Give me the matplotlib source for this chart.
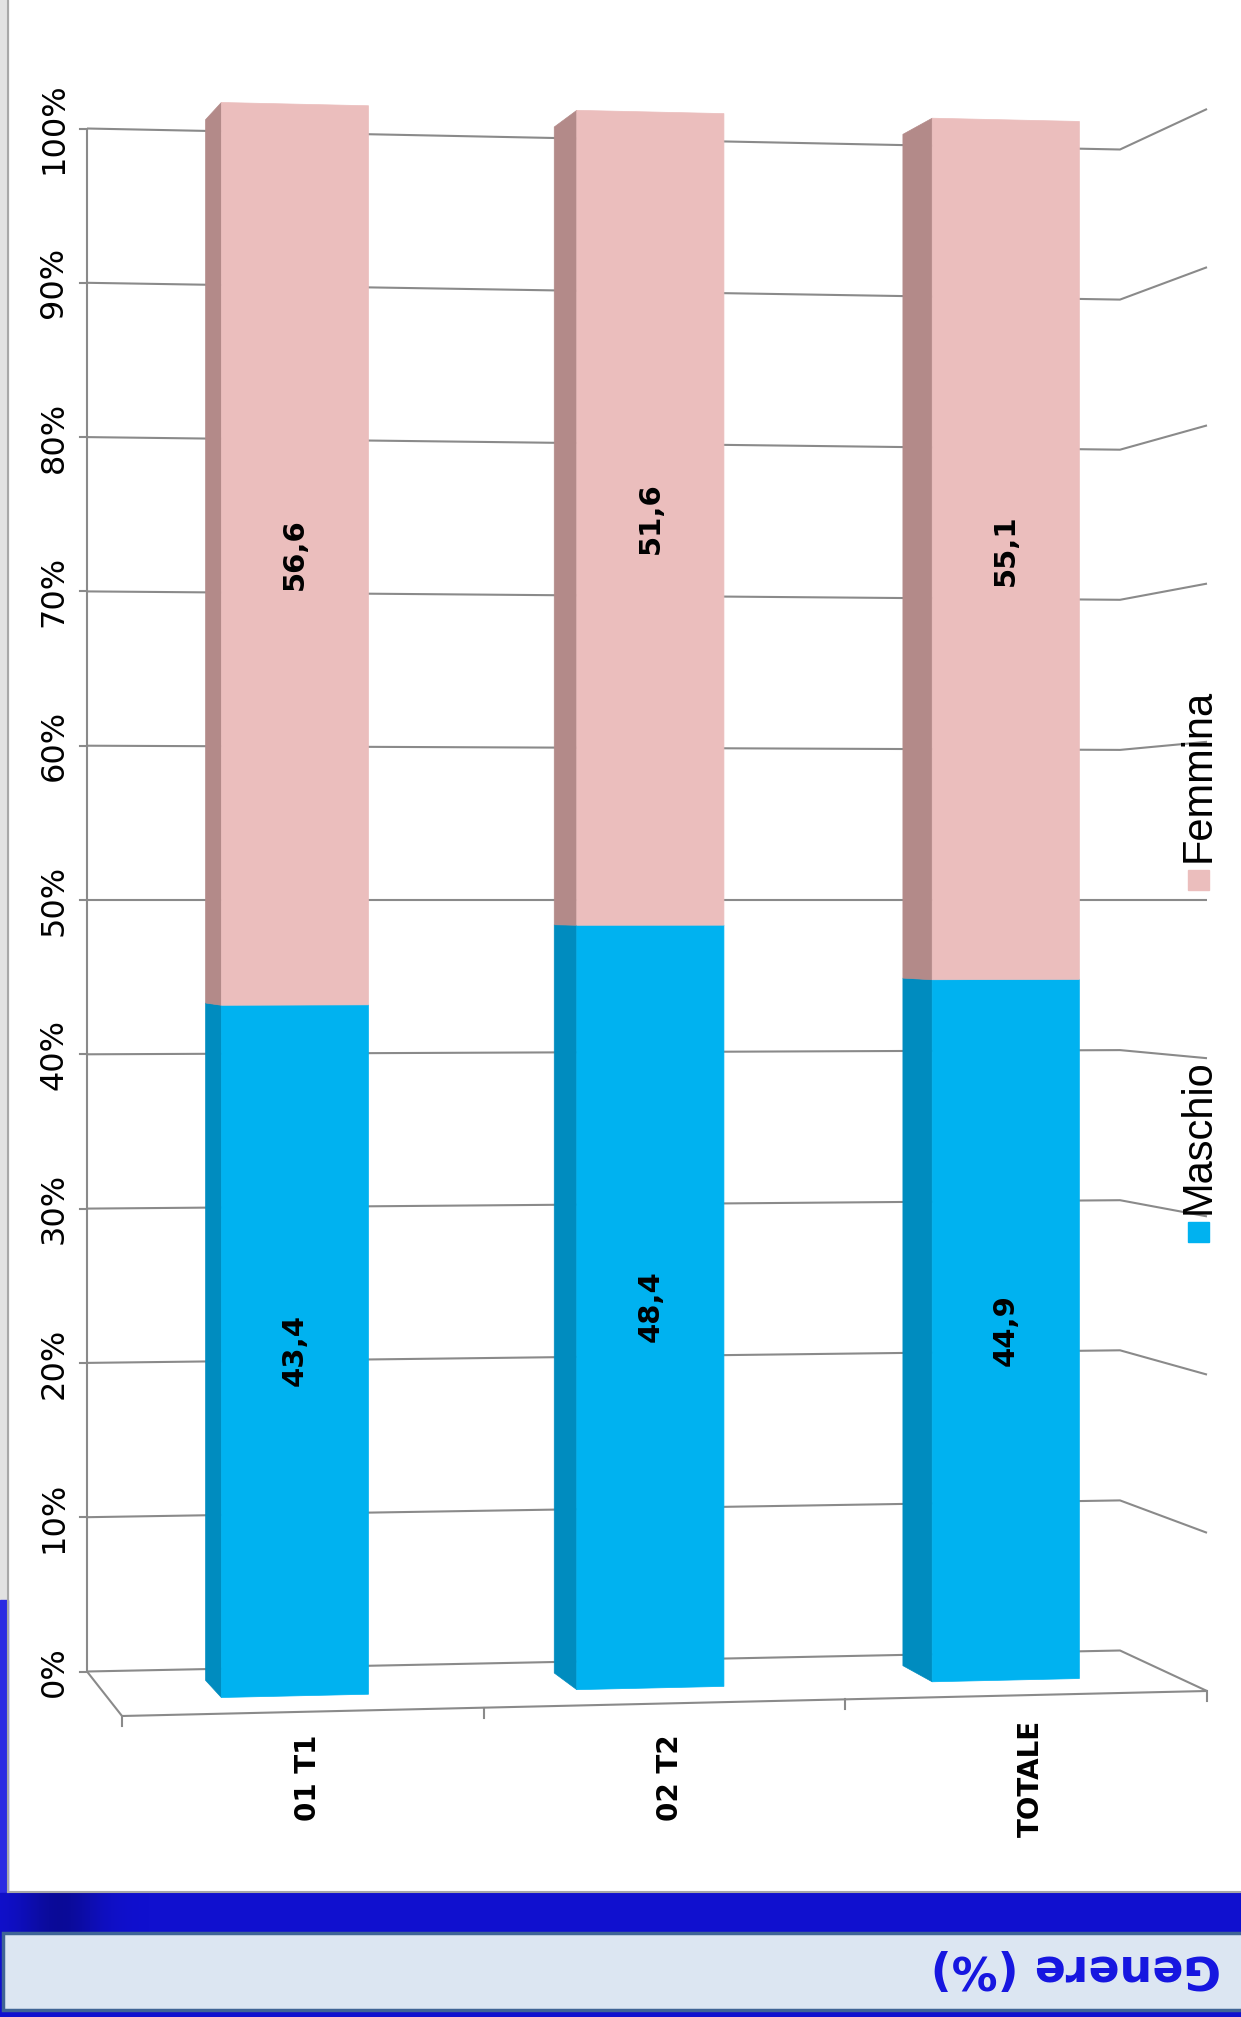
import numpy as np
import matplotlib.pyplot as plt
from matplotlib.patches import Polygon, Rectangle

# stacked 100% bars, gender split per group
categorie = ['01 T1', '02 T2', 'TOTALE']
maschio = [43.4, 48.4, 44.9]
femmina = [56.6, 51.6, 55.1]
serie = ['Maschio', 'Femmina']
tick_valori = [0, 10, 20, 30, 40, 50, 60, 70, 80, 90, 100]

col_front = {'Maschio': '#00B2F0', 'Femmina': '#EBBEBD'}
col_side = {'Maschio': '#008CBF', 'Femmina': '#B38A89'}
grigio = '#8A8A8A'

W, H = 1241, 2017
fig = plt.figure(figsize=(W / 100, H / 100), dpi=100)
ax = fig.add_axes([0, 0, 1, 1])
ax.set_xlim(0, W)
ax.set_ylim(H, 0)
ax.axis('off')

# 3D box: x position and vertical scale (px per %) at the four floor corners
ORIZZ = 900
BOX_X = {'fl': 122, 'fr': 1207, 'bl': 87, 'br': 1120}
BOX_S = {'fl': 16.32, 'fr': 15.82, 'bl': 15.43, 'br': 15.01}
N = len(categorie)


def proietta(cx, prof, val):
    u = cx / N

    def mix(d):
        front = d['fl'] + (d['fr'] - d['fl']) * u
        back = d['bl'] + (d['br'] - d['bl']) * u
        return front + (back - front) * prof
    return mix(BOX_X), ORIZZ - (val - 50) * mix(BOX_S)


def linea(punti, **kw):
    xs, ys = zip(*[proietta(*p) for p in punti])
    ax.plot(xs, ys, color=grigio, lw=1.5, solid_capstyle='butt', **kw)


# slide background pieces
ax.add_patch(Rectangle((0, 0), 8, 1600, color='#E2E2E2', zorder=0))
ax.add_patch(Rectangle((0, 1600), 8, 300, color='#2A2AE2', zorder=0))
ax.plot([8, 8], [0, 1892], color='#A8A8A8', lw=1.5)
ax.plot([8, W], [1892, 1892], color='#A8A8A8', lw=1.5)
ax.add_patch(Rectangle((0, 1893), W, H - 1893, color='#1010CF', zorder=0))
# darker smudge at the left end of the band
sfum = np.exp(-((np.linspace(0, 160, 160) - 60) / 40) ** 2)[None, :]
ax.imshow(np.dstack([np.full((1, 160, 3), [0.03, 0.03, 0.45]), sfum[..., None] * 0.6]),
          extent=(0, 160, 1933, 1893), aspect='auto', zorder=0.5, interpolation='bilinear')
ax.add_patch(Rectangle((3, 1933), W, 77, facecolor='#DCE6F2', edgecolor='#3F6496', lw=2.5, zorder=1))
ax.text(1076, 1967, 'Genere (%)', rotation=180, ha='center', va='center',
        fontsize=33, fontweight='bold', color='#1515E0', family='DejaVu Sans')

# walls, floor and gridlines
for v in tick_valori:
    linea([(0, 1, v), (N, 1, v), (N, 0, v)])
    x0, y0 = proietta(0, 1, v)
    ax.plot([x0 - 7, x0], [y0, y0], color=grigio, lw=1.5)
    ax.text(x0 - 33, y0, f'{v}%', rotation=90, ha='center', va='center',
            fontsize=23, family='DejaVu Sans')
linea([(0, 1, 0), (0, 1, 100)])
linea([(0, 1, 0), (0, 0, 0), (N, 0, 0)])
for i in range(N + 1):
    x0, y0 = proietta(i, 0, 0)
    ax.plot([x0, x0], [y0, y0 + 10], color=grigio, lw=1.5)

# bars
HW = 0.207
ZF, ZB = 0.36, 0.75
for i, cat in enumerate(categorie):
    cx = i + 0.522
    base = 0
    for nome, vals in zip(serie, [maschio, femmina]):
        top = base + vals[i]
        front = [proietta(cx - HW, ZF, base), proietta(cx + HW, ZF, base),
                 proietta(cx + HW, ZF, top), proietta(cx - HW, ZF, top)]
        side = [proietta(cx - HW, ZF, base), proietta(cx - HW, ZB, base),
                proietta(cx - HW, ZB, top), proietta(cx - HW, ZF, top)]
        ax.add_patch(Polygon(side, closed=True, facecolor=col_side[nome],
                             edgecolor=col_side[nome], lw=0.5, zorder=3))
        ax.add_patch(Polygon(front, closed=True, facecolor=col_front[nome],
                             edgecolor=col_front[nome], lw=0.5, zorder=4))
        tx, ty = proietta(cx, ZF, (base + top) / 2)
        ax.text(tx, ty, f'{vals[i]:.1f}'.replace('.', ','), rotation=90,
                ha='center', va='center', fontsize=21, fontweight='bold',
                family='DejaVu Sans', zorder=5)
        base = top
    lx, _ = proietta(i + 0.5, 0, 0)
    ax.text(lx + 5, 1778, cat, rotation=90, ha='center', va='center',
            fontsize=20, fontweight='bold', family='DejaVu Sans')

# legend, rotated like the rest of the labels
leg_y = {'Maschio': 1242, 'Femmina': 890}
for nome in serie:
    y = leg_y[nome]
    ax.add_patch(Rectangle((1188, y - 20), 21, 20, color=col_front[nome], zorder=3))
    ax.text(1199, y - 28, nome, rotation=90, ha='center', va='bottom',
            fontsize=30, family='Liberation Sans')

fig.savefig('out.png', dpi=100)
